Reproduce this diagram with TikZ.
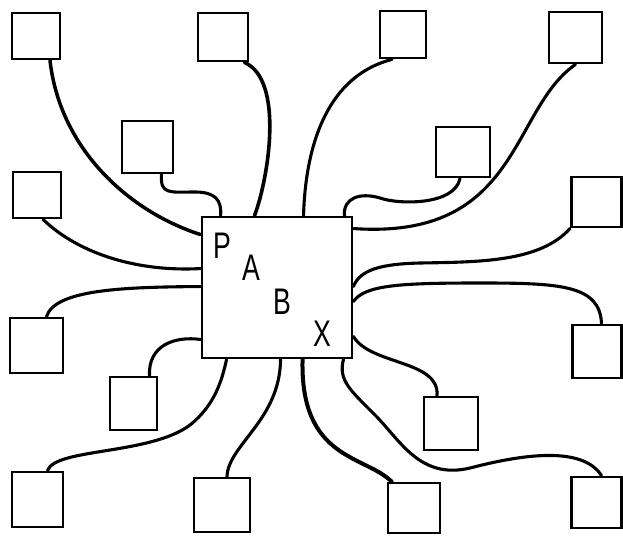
\documentclass[tikz,border=0pt]{standalone}
\usepackage{fontspec}
\setsansfont{Liberation Sans}
\usetikzlibrary{calc}
\begin{document}
\begin{tikzpicture}[x=1pt,y=-1pt,
  unit/.style={draw,line width=2.8pt,inner sep=0pt,minimum width=#1},
  hub/.style={draw,line width=2.9pt,inner sep=0pt,minimum width=150pt,minimum height=141pt},
  wire/.style={line width=3.1pt,line cap=round,line join=round},
  letter/.style={font=\sffamily\fontsize{37}{37}\selectfont,inner sep=0pt,xscale=0.72}]
\useasboundingbox (0,0) rectangle (623,535);

% central unit with its labels
\node[hub] (c) at (277,287.5) {};
\node[letter] (lp) at (222,246) {P};
\node[letter] (la) at (251,268) {A};
\node[letter] (lb) at (282,302) {B};
\node[letter] (lx) at (322,334) {X};

% outer units
\node[unit=48pt,minimum height=46pt] (b1)  at (36,36) {};
\node[unit=50pt,minimum height=48pt] (b2)  at (223,37) {};
\node[unit=46pt,minimum height=47pt] (b3)  at (403,34.5) {};
\node[unit=53pt,minimum height=51pt] (b4)  at (575.5,37.5) {};
\node[unit=51pt,minimum height=52pt] (b5)  at (147.5,147) {};
\node[unit=54pt,minimum height=50pt] (b6)  at (463,152) {};
\node[unit=48pt,minimum height=46pt] (b7)  at (37,195) {};
\node[unit=50pt,minimum height=50pt] (b8)  at (596.5,202) {};
\node[unit=53pt,minimum height=55pt] (b9)  at (36.5,345.5) {};
\node[unit=47pt,minimum height=53pt] (b10) at (133.5,403.5) {};
\node[unit=49pt,minimum height=53pt] (b11) at (597,351.5) {};
\node[unit=54pt,minimum height=53pt] (b12) at (451,423.5) {};
\node[unit=51pt,minimum height=55pt] (b13) at (37.5,499.5) {};
\node[unit=56pt,minimum height=54pt] (b14) at (222,505) {};
\node[unit=52pt,minimum height=50pt] (b15) at (414,508) {};
\node[unit=50pt,minimum height=51pt] (b16) at (596.5,502.5) {};

% connecting wires
\draw[wire,line width=3.5pt] ([xshift=14pt]b1.south) .. controls (60,150) and (130,212) .. ([yshift=-19pt]c.north west);
\draw[wire,line width=3.6pt] ([xshift=-5pt]b2.south east) .. controls (285,80) and (268,180) .. ([xshift=54pt]c.north west);
\draw[wire] ([xshift=-11pt]b3.south) .. controls (320,78) and (305,160) .. ([xshift=103pt]c.north west);
\draw[wire] (b4.south) .. controls (510,110) and (520,240) .. ([yshift=-13pt]c.north east);
\draw[wire] ([xshift=14pt]b5.south) .. controls (160,195) and (170,192) .. (195,192)
  .. controls (215,192) and (222,200) .. ([xshift=20pt]c.north west);
\draw[wire] ([xshift=-3pt]b6.south) .. controls (455,205) and (400,205) .. (380,198)
  .. controls (360,192) and (343,198) .. ([xshift=-9pt]c.north east);
\draw[wire] ([xshift=6pt]b7.south) .. controls (80,255) and (140,272) .. ([yshift=-53pt]c.north west);
\draw[wire] ([xshift=10pt]b9.north) .. controls (55,290) and (120,287) .. ([yshift=-71pt]c.north west);
\draw[wire] ([xshift=16pt]b10.north) .. controls (148,345) and (175,336) .. ([yshift=20pt]c.south west);
\draw[wire] ([xshift=10pt]b13.north) .. controls (55,448) and (150,455) .. (190,425)
  .. controls (215,405) and (222,380) .. ([xshift=26pt]c.south west);
\draw[wire] ([xshift=5pt]b14.north) .. controls (228,445) and (280,420) .. ([xshift=80pt]c.south west);
\draw[wire,line width=4pt] ([xshift=5pt]b15.north west) .. controls (365,455) and (300,460) .. ([xshift=102pt]c.south west);
\draw[wire] ([xshift=5pt]b16.north) .. controls (582,445) and (520,455) .. (470,468)
  .. controls (420,480) and (400,440) .. (375,415)
  .. controls (350,390) and (338,380) .. ([xshift=-10pt]c.south east);
\draw[wire] ([xshift=-14pt]b12.north) .. controls (440,360) and (370,365) .. ([yshift=23pt]c.south east);
\draw[wire] ([xshift=4.5pt]b11.north) .. controls (600,285) and (560,283) .. (480,283)
  .. controls (400,283) and (365,285) .. ([yshift=58pt]c.south east);
\draw[wire] (b8.south west) .. controls (540,262) and (480,262) .. (420,263)
  .. controls (380,264) and (360,270) .. ([yshift=73pt]c.south east);
\end{tikzpicture}
\end{document}
